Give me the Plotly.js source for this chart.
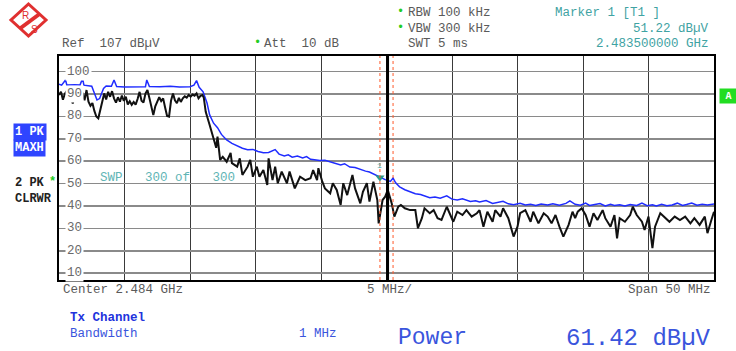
<!DOCTYPE html>
<html>
<head>
<meta charset="utf-8">
<script src="https://cdn.plot.ly/plotly-3.0.1.min.js"></script>
<style>html,body{margin:0;padding:0;background:#fff;}#chart{width:736px;height:351px;}</style>
</head>
<body>
<div id="chart"></div>
<script>
// Frequencies in MHz, levels in dBµV
const freqMaxHold = [2459.0,2459.2,2459.5,2459.6,2460.2,2460.6,2460.8,2460.9,2461.5,2461.7,2461.9,2462.1,2462.4,2462.6,2463.0,2463.2,2463.4,2464.0,2464.8,2465.6,2465.7,2465.9,2466.7,2467.5,2468.2,2469.0,2469.3,2469.5,2469.7,2470.0,2470.3,2470.5,2470.8,2471.1,2471.4,2471.8,2472.2,2472.7,2473.0,2473.4,2473.8,2474.2,2474.6,2475.0,2475.3,2475.5,2475.8,2476.2,2476.5,2476.8,2477.2,2477.6,2477.9,2478.2,2478.5,2478.9,2479.3,2479.7,2480.1,2480.5,2480.8,2481.2,2481.6,2482.0,2482.4,2482.7,2483.1,2483.5,2483.9,2484.3,2484.5,2484.7,2485.0,2485.4,2485.8,2486.2,2486.6,2486.9,2487.3,2487.7,2488.1,2488.6,2489.0,2489.4,2489.8,2490.4,2490.8,2491.1,2491.6,2492.1,2492.5,2492.9,2493.3,2493.7,2494.2,2494.6,2495.0,2495.4,2495.8,2496.3,2496.7,2497.2,2497.7,2498.0,2498.4,2498.8,2499.2,2499.5,2499.9,2500.3,2500.7,2501.1,2501.4,2501.8,2502.2,2502.6,2503.1,2503.5,2503.9,2504.3,2504.6,2505.0,2505.4,2505.8,2506.2,2506.6,2506.9,2507.3,2507.7,2508.1,2508.5,2508.8,2509.0];
const levelMaxHold = [94.4,94.0,96.3,94.0,94.2,94.0,97.0,94.0,93.5,90.0,87.4,88.0,92.5,93.6,93.5,96.3,93.4,93.2,93.4,93.3,96.3,93.4,93.3,93.5,93.2,93.3,94.0,96.0,93.0,91.0,86.0,80.7,77.0,75.0,72.0,69.5,68.0,66.5,65.8,65.2,65.3,64.4,63.8,63.9,64.6,65.2,63.2,62.4,62.9,61.8,62.3,61.5,62.1,60.9,60.7,60.3,60.5,59.8,59.2,58.4,58.9,57.4,57.2,56.3,55.6,55.2,54.0,52.8,51.8,51.0,52.5,50.4,48.6,47.3,46.4,45.5,45.2,44.4,43.7,44.1,43.5,44.6,43.1,42.7,43.3,42.1,42.4,41.8,42.5,41.2,41.6,42.1,41.0,40.6,41.2,40.5,40.8,40.3,40.9,40.5,41.0,40.4,41.2,42.3,40.8,40.4,41.3,40.3,40.7,41.1,40.1,40.8,40.3,40.6,40.1,40.7,40.3,41.3,40.2,40.6,40.1,40.8,40.2,40.5,41.3,40.3,40.7,41.4,40.4,40.8,40.5,40.9,40.9];

const freqClearWrite = [2459.0,2459.15,2459.3,2459.45,2459.6,2459.75,2459.9,2460.05,2460.2,2460.35,2460.5,2460.65,2460.8,2460.95,2461.1,2461.25,2461.4,2461.55,2461.7,2461.85,2462.0,2462.15,2462.3,2462.45,2462.6,2462.75,2462.9,2463.05,2463.2,2463.35,2463.5,2463.65,2463.8,2463.95,2464.1,2464.25,2464.4,2464.55,2464.7,2464.85,2465.0,2465.15,2465.3,2465.45,2465.6,2465.75,2465.9,2466.05,2466.2,2466.35,2466.5,2466.65,2466.8,2466.95,2467.1,2467.25,2467.4,2467.55,2467.7,2467.85,2468.0,2468.15,2468.3,2468.45,2468.6,2468.75,2468.9,2469.05,2469.2,2469.35,2469.5,2469.65,2469.8,2469.95,2470.05,2470.2,2470.5,2470.7,2471.0,2471.1,2471.3,2471.5,2471.8,2472.1,2472.2,2472.6,2472.8,2473.0,2473.4,2473.6,2473.8,2474.1,2474.3,2474.6,2474.9,2475.0,2475.3,2475.5,2475.7,2476.0,2476.4,2476.6,2477.0,2477.4,2477.8,2478.2,2478.4,2478.7,2478.8,2479.1,2479.3,2479.7,2479.9,2480.2,2480.5,2480.7,2481.0,2481.4,2481.6,2482.0,2482.2,2482.5,2482.7,2483.0,2483.3,2483.4,2483.7,2483.9,2484.1,2484.4,2484.6,2484.9,2485.1,2485.4,2485.8,2486.2,2486.4,2486.7,2486.9,2487.3,2487.6,2487.9,2488.2,2488.6,2488.8,2489.1,2489.4,2489.8,2490.1,2490.5,2490.9,2491.1,2491.4,2491.7,2492.1,2492.3,2492.7,2492.9,2493.3,2493.7,2494.0,2494.2,2494.6,2495.0,2495.2,2495.6,2496.0,2496.3,2496.6,2496.9,2497.2,2497.5,2497.9,2498.2,2498.4,2498.6,2498.9,2499.2,2499.5,2499.8,2500.1,2500.5,2500.7,2501.1,2501.4,2501.6,2501.8,2502.2,2502.6,2502.8,2503.1,2503.5,2503.7,2504.0,2504.3,2504.5,2504.9,2505.3,2505.6,2506.0,2506.4,2506.8,2507.2,2507.5,2507.9,2508.3,2508.5,2508.8,2509.0];
const levelClearWrite = [89.6,91.0,87.5,90.2,91.5,86.6,88.5,85.8,89.5,87.8,91.2,88.4,90.6,87.2,91.8,86.6,84.8,86.0,82.5,80.0,79.2,83.0,87.5,90.3,87.6,91.0,88.8,91.3,88.1,86.2,88.6,86.6,89.3,87.0,88.8,85.4,86.8,85.2,86.5,85.3,87.8,91.0,87.0,86.2,90.2,91.8,88.2,84.0,80.6,84.5,86.6,88.6,86.9,88.1,84.0,80.2,79.9,87.0,90.3,87.2,85.9,88.3,86.5,88.1,89.0,88.4,89.6,88.9,89.8,89.3,90.3,88.1,89.2,89.6,88.5,82.1,76.2,71.7,66.0,71.0,60.6,62.0,59.8,63.7,59.2,57.6,61.3,53.9,57.6,60.6,53.1,57.6,53.1,56.1,49.4,61.3,51.6,57.6,50.2,55.4,50.2,55.4,47.9,53.1,51.6,52.4,56.1,51.6,56.9,50.9,47.9,45.7,50.2,47.2,40.5,50.2,44.9,53.9,47.9,41.2,46.4,50.2,42.0,50.9,42.7,32.3,42.7,44.2,47.2,41.2,35.3,39.7,40.5,39.0,38.2,38.2,30.1,34.6,39.0,36.8,38.2,34.6,33.8,39.7,36.8,33.0,37.5,36.0,38.2,35.3,36.8,38.2,30.8,37.5,33.0,38.2,35.3,39.0,34.6,26.4,30.8,36.8,38.2,33.0,37.5,32.3,36.8,35.3,32.3,36.0,30.8,26.4,31.6,37.5,34.6,37.5,39.0,36.0,30.8,36.8,33.8,38.2,34.6,30.8,36.0,25.6,34.6,33.0,36.0,39.7,36.0,33.0,29.3,35.3,21.2,30.8,36.8,34.6,33.0,35.3,33.8,35.3,32.3,34.6,31.6,35.3,27.9,33.8,37.5];

const yTickLabels = [100, 90, 80, 70, 60, 50, 40, 30, 20, 10];
const markerFreq = 2483.5;
const markerLevel = 51.22;
const channelLow = 2483.5;
const channelHigh = 2484.5;
const centerFreq = 2484.0;
const startFreq = 2459, stopFreq = 2509;
const refLevel = 107, bottomLevel = 7;

// layout helpers (pixel -> paper)
const L = 59, R = 714, T = 56, B = 280;
const px = x => (x - L) / (R - L);
const py = y => (B - y) / (B - T);
const MONO = 'Liberation Mono, Courier New, monospace';
const NB = '\u00A0';
const sp = s => s.replace(/ /g, NB);

function ann(text, x, y, o) {
  o = o || {};
  return Object.assign({
    text: sp(text), xref: 'paper', yref: 'paper', x: px(x), y: py(y),
    xanchor: 'left', yanchor: 'middle', showarrow: false,
    font: {family: MONO, size: 12.5, color: '#5a5a5a'}
  }, o);
}

const annotations = [];
// header
annotations.push(ann('Ref  107 dBµV', 60, 44));
annotations.push(ann('•', 252, 43, {font: {family: MONO, size: 12, color: '#22cc22'}}));
annotations.push(ann('Att  10 dB', 262, 44));
annotations.push(ann('•', 395, 12, {font: {family: MONO, size: 12, color: '#22cc22'}}));
annotations.push(ann('RBW 100 kHz', 406, 13));
annotations.push(ann('•', 395, 28, {font: {family: MONO, size: 12, color: '#22cc22'}}));
annotations.push(ann('VBW 300 kHz', 406, 29));
annotations.push(ann('SWT 5 ms', 406, 44));
annotations.push(ann('Marker 1 [T1 ]', 553, 13, {font: {family: MONO, size: 12.5, color: '#3fa3a3'}}));
annotations.push(ann('51.22 dBµV', 711, 29, {xanchor: 'right', font: {family: MONO, size: 12.5, color: '#3fa3a3'}}));
annotations.push(ann('2.483500000 GHz', 711, 44, {xanchor: 'right', font: {family: MONO, size: 12.5, color: '#3fa3a3'}}));
// left trace labels
annotations.push(ann('1 PK', 13, 132, {bgcolor: '#2f45ff', borderpad: 1, font: {family: 'Liberation Mono', size: 12, color: '#ffffff', weight: 'bold'}}));
annotations.push(ann('MAXH', 13, 148, {bgcolor: '#2f45ff', borderpad: 1, font: {family: 'Liberation Mono', size: 12, color: '#ffffff', weight: 'bold'}}));
annotations.push(ann('2 PK', 13, 183, {font: {family: 'Liberation Mono', size: 12, color: '#222', weight: 'bold'}}));
annotations.push(ann('*', 47, 182, {font: {family: MONO, size: 12, color: '#22cc22', weight: 'bold'}}));
annotations.push(ann('CLRWR', 13, 199, {font: {family: 'Liberation Mono', size: 12, color: '#222', weight: 'bold'}}));
// right A box
annotations.push(ann('A', 719, 96, {bgcolor: '#22dd22', width: 15, height: 12, align: 'center', font: {family: MONO, size: 10, color: '#ffffff', weight: 'bold'}}));
// sweep info
annotations.push(ann('SWP   300 of   300', 98, 178, {font: {family: MONO, size: 12.5, color: '#5fb5b5'}}));
// bottom axis texts
annotations.push(ann('Center 2.484 GHz', 61, 290));
annotations.push(ann('5 MHz/', 365, 290));
annotations.push(ann('Span 50 MHz', 713, 290, {xanchor: 'right'}));
// channel power info
annotations.push(ann('Tx Channel', 68, 318, {font: {family: 'Liberation Mono', size: 12.5, color: '#2233dd', weight: 'bold'}}));
annotations.push(ann('Bandwidth', 68, 334, {font: {family: MONO, size: 12.5, color: '#3a55dd'}}));
annotations.push(ann('1 MHz', 297, 334, {font: {family: MONO, size: 12.5, color: '#3a55dd'}}));
annotations.push(ann('Power', 396, 338, {font: {family: MONO, size: 23, color: '#3a55dd'}}));
annotations.push(ann('61.42 dBµV', 713, 338, {xanchor: 'right', font: {family: MONO, size: 24, color: '#3a55dd'}}));
// logo letters
annotations.push(ann('R', 20, 15, {font: {family: 'Liberation Sans', size: 10, color: '#e03030'}}));
annotations.push(ann('S', 29, 29, {font: {family: 'Liberation Sans', size: 10, color: '#e03030'}}));
// marker number
annotations.push({text: '1', xref: 'x', yref: 'y', x: markerFreq, y: markerLevel + 4, showarrow: false, yanchor: 'bottom', font: {family: MONO, size: 8, color: '#3fa3a3'}});

// y-axis level labels inside the grid
yTickLabels.forEach(v => {
  annotations.push({text: String(v), xref: 'paper', yref: 'y', x: px(65), y: v,
    xanchor: 'left', yanchor: 'middle', showarrow: false, bgcolor: '#ffffff', borderpad: 1,
    font: {family: MONO, size: 12.5, color: '#6a6a6a'}});
});

function pth(points) {
  return 'M' + points.map(p => px(p[0]) + ',' + py(p[1])).join(' L') + ' Z';
}

const shapes = [
  // channel limit lines
  {type: 'line', xref: 'x', yref: 'paper', x0: channelLow, x1: channelLow, y0: 0, y1: 1.0, line: {color: '#ff5a2a', width: 1, dash: 'dot'}},
  {type: 'line', xref: 'x', yref: 'paper', x0: channelHigh, x1: channelHigh, y0: 0, y1: 1.0, line: {color: '#ff5a2a', width: 1, dash: 'dot'}},
  // channel centre line
  {type: 'line', xref: 'x', yref: 'paper', x0: centerFreq + 0.08, x1: centerFreq + 0.08, y0: 0, y1: 1, line: {color: '#000', width: 3}},
  // logo diamond
  {type: 'path', xref: 'paper', yref: 'paper', path: pth([[28.5, 4], [46, 20], [28.5, 36], [11, 20]]), fillcolor: '#ffffff', line: {color: '#e03030', width: 3}},
  {type: 'line', xref: 'paper', yref: 'paper', x0: px(20), y0: py(28.5), x1: px(39.5), y1: py(14), line: {color: '#e03030', width: 4}}
];

const traces = [
  {x: freqMaxHold, y: levelMaxHold, type: 'scatter', mode: 'lines', line: {color: '#1f2cff', width: 1.5}, hoverinfo: 'skip'},
  {x: freqClearWrite, y: levelClearWrite, type: 'scatter', mode: 'lines', line: {color: '#111111', width: 2}, hoverinfo: 'skip'},
  {x: [markerFreq], y: [markerLevel + 1.5], type: 'scatter', mode: 'markers', marker: {symbol: 'triangle-down', size: 8, color: '#2a9a8a'}, hoverinfo: 'skip'}
];

const layout = {
  width: 736, height: 351,
  margin: {l: L, r: 736 - R, t: T, b: 351 - B, pad: 0},
  paper_bgcolor: '#ffffff', plot_bgcolor: '#ffffff',
  showlegend: false,
  xaxis: {range: [startFreq, stopFreq], tick0: startFreq, dtick: 5, showticklabels: false, ticks: '',
    showgrid: true, gridcolor: '#3a3a3a', gridwidth: 1, zeroline: false,
    showline: true, mirror: true, linecolor: '#000', linewidth: 2},
  yaxis: {range: [bottomLevel, refLevel], tickvals: yTickLabels, showticklabels: false, ticks: '',
    showgrid: true, gridcolor: '#8a8a8a', gridwidth: 1.6, zeroline: false,
    showline: true, mirror: true, linecolor: '#000', linewidth: 2},
  annotations: annotations,
  shapes: shapes
};

Plotly.newPlot('chart', traces, layout, {staticPlot: true, displayModeBar: false});
</script>
</body>
</html>
